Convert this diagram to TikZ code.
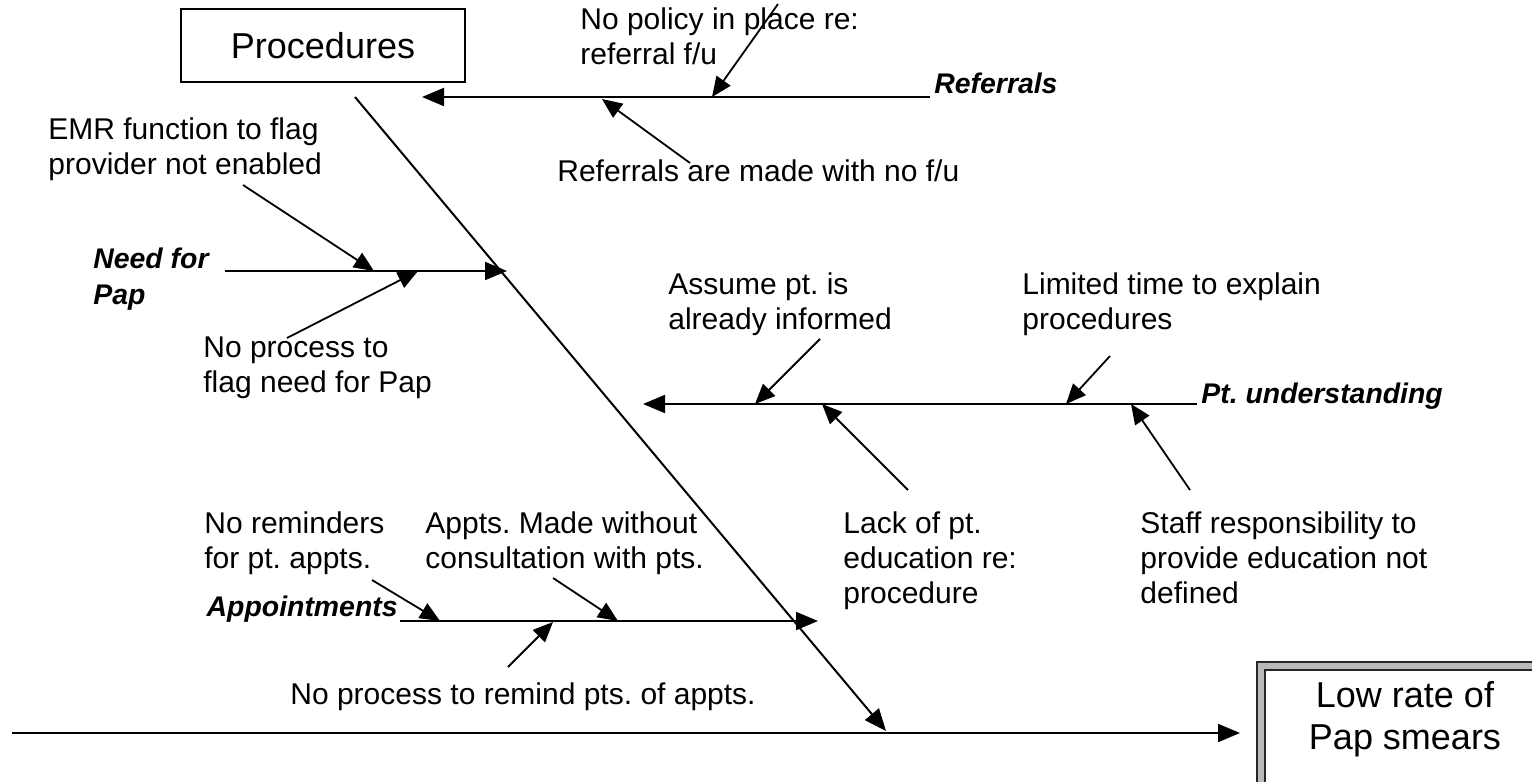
\documentclass[tikz,border=0pt]{standalone}
\usepackage{fontspec}
\setmainfont{Liberation Sans}
\usetikzlibrary{arrows.meta}
\frenchspacing
\begin{document}
\begin{tikzpicture}[x=0.5pt,y=-0.5pt,
  bone/.style={line width=1pt, -{Triangle[length=11pt,width=9pt]}},
  cause/.style={line width=0.9pt, -{Triangle[length=10pt,width=8.5pt]}},
  lbl/.style={font=\fontsize{15}{17.5}\selectfont, align=left, inner sep=0pt, anchor=north west},
  cat/.style={font=\fontsize{14.2}{18}\selectfont\bfseries\itshape, align=left, inner sep=0pt},
  headbox/.style={draw, line width=1pt, font=\fontsize{18}{21}\selectfont,
    minimum width=142pt, minimum height=36.5pt, inner sep=0pt},
  effectframe/.style={draw=black!85, line width=1pt, double=gray!55, double distance=3pt,
    minimum width=150pt, minimum height=65pt, inner sep=0pt},
  effecttext/.style={font=\fontsize{18}{21}\selectfont, align=center, inner sep=0pt}]
\useasboundingbox (0,0) rectangle (1532,782);
\clip (0,0) rectangle (1532,782);

% head and effect
\node[headbox] (proc) at (323,45.5) {Procedures};
\node[effectframe] (frame) at (1411,731) {};
\node[effecttext] (effect) at (1405,719) {Low rate of\\Pap smears};

% spine and the procedures bone
\coordinate (tail) at (12,733);
\coordinate (head) at (1240,733);
\draw[bone] (tail) -- (head);
\coordinate (procfoot) at (355,97);
\coordinate (procjoin) at (886,731);
\draw[bone] (procfoot) -- (procjoin);

% Referrals
\coordinate (refEnd) at (930,97);
\coordinate (refTip) at (422,97);
\draw[bone] (refEnd) -- (refTip);
\node[cat, anchor=base west] (referrals) at (934,93) {Referrals};
\node[lbl] (policy) at (580,7) {No policy in place re:\\referral f/u};
\node[lbl] (refmade) at (557,159) {Referrals are made with no f/u};
\coordinate (r1s) at (778,4);   \coordinate (r1t) at (712,97);
\coordinate (r2s) at (690,163); \coordinate (r2t) at (602,99);
\draw[cause] (r1s) -- (r1t);
\draw[cause] (r2s) -- (r2t);

% Need for Pap
\coordinate (needEnd) at (225,271);
\coordinate (needTip) at (507,271);
\draw[bone] (needEnd) -- (needTip);
\node[cat, anchor=north west] (need) at (93,248) {Need for\\Pap};
\node[lbl] (emr) at (48,117) {EMR function to flag\\provider not enabled};
\node[lbl] (noflag) at (203,336) {No process to\\flag need for Pap};
\coordinate (n1s) at (243,185); \coordinate (n1t) at (374,271);
\coordinate (n2s) at (287,338); \coordinate (n2t) at (418,271);
\draw[cause] (n1s) -- (n1t);
\draw[cause] (n2s) -- (n2t);

% Pt. understanding
\coordinate (ptEnd) at (1197,404);
\coordinate (ptTip) at (643,404);
\draw[bone] (ptEnd) -- (ptTip);
\node[cat, anchor=base west] (pt) at (1201,403) {Pt. understanding};
\node[lbl] (assume) at (668,272) {Assume pt. is\\already informed};
\node[lbl] (limited) at (1022,272) {Limited time to explain\\procedures};
\node[lbl] (lack) at (843,511) {Lack of pt.\\education re:\\procedure};
\node[lbl] (staff) at (1140,511) {Staff responsibility to\\provide education not\\defined};
\coordinate (p1s) at (820,339);  \coordinate (p1t) at (755,404);
\coordinate (p2s) at (908,490);  \coordinate (p2t) at (822,404);
\coordinate (p3s) at (1110,356); \coordinate (p3t) at (1066,404);
\coordinate (p4s) at (1190,490); \coordinate (p4t) at (1131,404);
\draw[cause] (p1s) -- (p1t);
\draw[cause] (p2s) -- (p2t);
\draw[cause] (p3s) -- (p3t);
\draw[cause] (p4s) -- (p4t);

% Appointments
\coordinate (apEnd) at (400,621);
\coordinate (apTip) at (818,621);
\draw[bone] (apEnd) -- (apTip);
\node[cat, anchor=base east] (appts) at (398,616) {Appointments};
\node[lbl] (norem) at (204,511) {No reminders\\for pt. appts.};
\node[lbl] (made) at (425,511) {Appts. Made without\\consultation with pts.};
\node[lbl] (remind) at (290,682) {No process to remind pts. of appts.};
\coordinate (a1s) at (372,580); \coordinate (a1t) at (440,621);
\coordinate (a2s) at (553,578); \coordinate (a2t) at (618,621);
\coordinate (a3s) at (508,667); \coordinate (a3t) at (553,622);
\draw[cause] (a1s) -- (a1t);
\draw[cause] (a2s) -- (a2t);
\draw[cause] (a3s) -- (a3t);
\end{tikzpicture}
\end{document}
